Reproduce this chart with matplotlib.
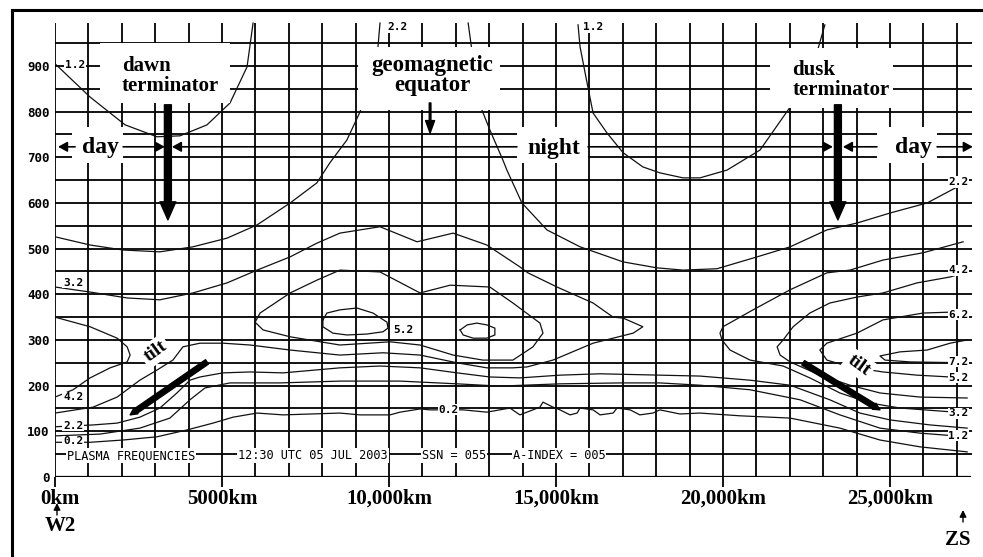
import matplotlib
matplotlib.use('Agg')
import matplotlib.pyplot as plt
from matplotlib.patches import Rectangle, FancyArrowPatch
from matplotlib.lines import Line2D
from matplotlib.transforms import ScaledTranslation

# ---------------- data (distance km, altitude km) ----------------
x_ticks = [0, 5000, 10000, 15000, 20000, 25000]
x_tick_labels = ['0km', '5000km', '10,000km', '15,000km', '20,000km', '25,000km']
y_ticks = [0, 100, 200, 300, 400, 500, 600, 700, 800, 900]
y_tick_labels = ['0', '100', '200', '300', '400', '500', '600', '700', '800', '900']
grid_x = list(range(0, 27001, 1000))
grid_y = list(range(50, 951, 50))

# 1.2 MHz topside arcs
c12_left_km = [0, 1050, 2100, 3050, 3740, 4550, 5240, 5750, 5930]
c12_left_h = [905, 832, 771, 745, 747, 771, 819, 898, 994]
c12_right_km = [15660, 15720, 15930, 16110, 16530, 17010, 17600, 18110, 18800, 19310,
                20120, 21110, 22010, 22450, 22810, 23050]
c12_right_h = [990, 942, 863, 797, 753, 710, 679, 666, 655, 655, 672, 716, 810, 869, 929, 990]

# 2.2 MHz topside
c22_left_km = [0, 1050, 2040, 3140, 4130, 5150, 6050, 7040, 7840, 8230, 8740, 9130, 9490, 9670, 9730]
c22_left_h = [526, 508, 497, 493, 504, 523, 552, 600, 644, 688, 738, 799, 880, 942, 994]
c22_right_km = [12370, 12480, 12660, 12780, 13020, 13410, 13530, 13980, 14730, 15720, 17010,
                18020, 18800, 19820, 21020, 22010, 23110, 24010, 25000, 26110, 27010]
c22_right_h = [994, 935, 869, 804, 760, 694, 672, 600, 541, 504, 471, 458, 453, 456, 482, 504,
               541, 556, 578, 600, 635]

# 3.2 MHz, western / central lobe
c32_km = [0, 1050, 2160, 3140, 4130, 5150, 6050, 7040, 7840, 8530, 9730, 10840, 11920, 12930,
          13920, 14160, 15030, 16110, 16710, 17010, 17600, 17310, 16110, 14910, 14130, 13710,
          12930, 12040, 10930, 9820, 8530, 7040, 5840, 5030, 4340, 3830, 3530, 3050, 2540,
          1860, 1140, 0]
c32_h = [416, 405, 392, 388, 403, 425, 453, 482, 512, 534, 548, 515, 534, 508, 460, 447, 416,
         381, 350, 348, 329, 315, 293, 256, 241, 239, 239, 250, 267, 272, 267, 278, 289, 293,
         293, 285, 256, 234, 212, 175, 153, 140]

# 4.2 MHz, central loop and western nose
c42_center_km = [5990, 6140, 7040, 7840, 8530, 9730, 10930, 11830, 13020, 13710, 14520, 14610,
                 14310, 13710, 12810, 11920, 10930, 10030, 8530, 7040, 6230, 5990]
c42_center_h = [339, 359, 403, 431, 453, 449, 403, 420, 416, 381, 337, 315, 285, 256, 256, 267,
                289, 296, 289, 307, 322, 339]
c42_west_km = [0, 1050, 1860, 2160, 2250, 2160, 1650, 1050, 540, 0]
c42_west_h = [350, 329, 304, 285, 267, 252, 239, 217, 191, 175]

# 5.2 MHz closed cells
c52_a_km = [8020, 8140, 8530, 9040, 9520, 9940, 9970, 9820, 9340, 8740, 8320, 8020, 8020]
c52_a_h = [344, 359, 366, 370, 359, 339, 326, 318, 313, 311, 315, 329, 344]
c52_b_km = [12130, 12340, 12630, 12930, 13170, 13170, 12930, 12520, 12220, 12130]
c52_b_h = [322, 333, 337, 333, 326, 311, 304, 304, 311, 322]

# eastern (dusk side) noses
c32_east_km = [27190, 25990, 24790, 23800, 23110, 22010, 20900, 20000, 19910, 19970, 20210,
               20810, 21800, 22600, 23500, 24400, 25300, 27310]
c32_east_h = [515, 491, 475, 453, 447, 410, 366, 329, 315, 300, 278, 256, 243, 217, 184, 162,
              151, 140]
c42_east_km = [27310, 26800, 25810, 24790, 24010, 23200, 22600, 22100, 21800, 21620, 21710,
               22010, 22900, 23800, 24700, 25900, 27310]
c42_east_h = [449, 438, 425, 403, 394, 381, 359, 329, 300, 285, 267, 252, 223, 201, 184, 175, 173]
c62_east_km = [27310, 26800, 25990, 24790, 24010, 23110, 22900, 23110, 23800, 24790, 25810, 27310]
c62_east_h = [361, 361, 359, 344, 315, 293, 278, 256, 241, 230, 223, 217]
c72_east_km = [27310, 26800, 26110, 25300, 24700, 24850, 25600, 27310]
c72_east_h = [300, 293, 278, 274, 265, 256, 252, 250]

# bottomside contours spanning the whole path
c22_bottom_km = [0, 1140, 1860, 2540, 3140, 3650, 4040, 4340, 5030, 5840, 6830, 8530, 9730,
                 10930, 12040, 13020, 13920, 15120, 16320, 18110, 19310, 20810, 22010, 23200,
                 24100, 25000, 26200, 27310]
c22_bottom_h = [110, 114, 118, 131, 151, 184, 212, 219, 228, 230, 228, 239, 243, 239, 228, 219,
                217, 223, 226, 223, 221, 212, 201, 169, 140, 125, 114, 107]
c12_bottom_km = [0, 1350, 2540, 3440, 4040, 4490, 5240, 6740, 8530, 10330, 12040, 13320, 15120,
                 16920, 18110, 19310, 20810, 22310, 23500, 24700, 25900, 27310]
c12_bottom_h = [90, 94, 107, 129, 169, 195, 206, 206, 210, 210, 204, 199, 204, 206, 206, 201,
                191, 169, 136, 107, 96, 88]
c02_km = [0, 1050, 2040, 3050, 3950, 4730, 5330, 6050, 6830, 8530, 9130, 10030, 10330, 10930,
          11230, 12220, 12930, 13620, 13920, 14130, 14520, 14610, 14910, 15120, 15420, 15630,
          15720, 16110, 16320, 16710, 16830, 17220, 17510, 17900, 18110, 18710, 19310, 20510,
          22010, 23500, 24700, 25900, 27310]
c02_h = [76, 76, 81, 88, 103, 118, 131, 140, 136, 140, 136, 136, 142, 149, 147, 147, 142, 151,
         136, 142, 153, 164, 153, 147, 136, 140, 151, 147, 136, 140, 151, 147, 136, 140, 147,
         138, 140, 134, 129, 107, 81, 66, 55]

# contour labels
clabel_text = ['1.2', '2.2', '1.2', '3.2', '4.2', '2.2', '0.2', '5.2', '0.2',
               '2.2', '4.2', '6.2', '7.2', '5.2', '3.2', '1.2']
clabel_km = [300, 9940, 15810, 240, 240, 240, 240, 10120, 11470,
             26750, 26750, 26750, 26750, 26750, 26750, 26750]
clabel_h = [902, 985, 985, 425, 175, 112, 78, 322, 147,
            646, 453, 355, 252, 217, 140, 90]

info_texts = ['PLASMA FREQUENCIES', '12:30 UTC 05 JUL 2003', 'SSN = 055', 'A-INDEX = 005']
info_km = [360, 5480, 10990, 13710]
info_h = 47

# ---------------- figure ----------------
fig = plt.figure(figsize=(9.83, 5.57), dpi=100)
ax = fig.add_axes([55 / 983, 1 - 477 / 557, (973.5 - 55) / 983, (477 - 20.3) / 557])
ax.set_xlim(0, 27500)
ax.set_ylim(0, 1000)
for s in ax.spines.values():
    s.set_visible(False)

serif = 'Liberation Serif'
mono = 'DejaVu Sans Mono'

# grid
for gx in grid_x:
    ax.plot([gx, gx], [0, 995], color='black', lw=1.3, zorder=1, solid_capstyle='butt')
for gy in grid_y:
    ax.plot([0, 27450], [gy, gy], color='black', lw=1.3, zorder=1, solid_capstyle='butt')
ax.plot([0, 27400], [0, 0], color='black', lw=1.6, zorder=1)

# contours
contours = [(c12_left_km, c12_left_h), (c12_right_km, c12_right_h),
            (c22_left_km, c22_left_h), (c22_right_km, c22_right_h),
            (c32_km, c32_h), (c42_center_km, c42_center_h), (c42_west_km, c42_west_h),
            (c52_a_km, c52_a_h), (c52_b_km, c52_b_h),
            (c32_east_km, c32_east_h), (c42_east_km, c42_east_h),
            (c62_east_km, c62_east_h), (c72_east_km, c72_east_h),
            (c22_bottom_km, c22_bottom_h), (c12_bottom_km, c12_bottom_h), (c02_km, c02_h)]
for xs, hs in contours:
    ax.plot(xs, hs, color='#111111', lw=0.9, zorder=2)

# contour labels
for t, xk, hk in zip(clabel_text, clabel_km, clabel_h):
    ax.text(xk, hk, t, fontfamily=mono, fontweight='bold', fontsize=8.0, ha='left', va='center',
            zorder=4, bbox=dict(boxstyle='square,pad=0.05', fc='white', ec='none'))

# info line
for t, xk in zip(info_texts, info_km):
    ax.text(xk, info_h, t, fontfamily=mono, fontsize=8.6, ha='left', va='center', zorder=4,
            bbox=dict(boxstyle='square,pad=0.08', fc='white', ec='none'))

# white boxes behind annotations (km, km)
boxes = [(1350, 819, 5240, 950), (9070, 804, 13320, 942), (13830, 688, 15960, 767),
         (510, 688, 2040, 767), (21410, 808, 25090, 940), (24610, 688, 26410, 767)]
for x0, y0, x1, y1 in boxes:
    ax.add_patch(Rectangle((x0, y0), x1 - x0, y1 - y0, fc='white', ec='none', zorder=3))

ax.text(2006, 921, 'dawn\nterminator', fontfamily=serif, fontweight='bold', fontsize=15,
        ha='left', va='top', linespacing=1.0, zorder=4)
ax.text(11290, 924, 'geomagnetic\nequator', fontfamily=serif, fontweight='bold', fontsize=16.5,
        ha='center', va='top', multialignment='center', linespacing=0.95, zorder=4)
ax.text(22070, 913, 'dusk\nterminator', fontfamily=serif, fontweight='bold', fontsize=15,
        ha='left', va='top', linespacing=1.0, zorder=4)
ax.text(14940, 707, 'night', fontfamily=serif, fontweight='bold', fontsize=17,
        ha='center', va='baseline', zorder=4)
ax.text(810, 709, 'day', fontfamily=serif, fontweight='bold', fontsize=17,
        ha='left', va='baseline', zorder=4)
ax.text(25150, 709, 'day', fontfamily=serif, fontweight='bold', fontsize=17,
        ha='left', va='baseline', zorder=4)

# tilt labels
ax.text(3000, 275, 'tilt', fontfamily=serif, fontweight='bold', fontsize=14, rotation=36,
        ha='center', va='center', rotation_mode='anchor', zorder=4,
        bbox=dict(boxstyle='square,pad=0.15', fc='white', ec='none'))
ax.text(24070, 245, 'tilt', fontfamily=serif, fontweight='bold', fontsize=14, rotation=-36,
        ha='center', va='center', rotation_mode='anchor', zorder=4,
        bbox=dict(boxstyle='square,pad=0.15', fc='white', ec='none'))


def arrow(x0, y0, x1, y1, style, **kw):
    p = FancyArrowPatch((x0, y0), (x1, y1), arrowstyle=style, mutation_scale=10,
                        color='black', zorder=5, shrinkA=0, shrinkB=0, **kw)
    ax.add_patch(p)


# terminator arrows
big = 'simple,head_length=1.3,head_width=1.15,tail_width=0.5'
arrow(3380, 815, 3380, 563, big)
arrow(23440, 815, 23440, 563, big)
# geomagnetic equator arrow
arrow(11230, 819, 11230, 753, 'simple,head_length=0.9,head_width=0.65,tail_width=0.12')
# tilt arrows (thick bars with a small head)
tilt = 'simple,head_length=0.5,head_width=0.5,tail_width=0.38'
arrow(4550, 252, 2250, 136, tilt)
arrow(22400, 250, 24700, 147, tilt)

# day / night arrows
dn = '-|>,head_length=0.55,head_width=0.3'
yd = 723
arrow(600, yd, 90, yd, dn, lw=1.2)
arrow(2040, yd, 3290, yd, dn, lw=1.2)
arrow(13830, yd, 3500, yd, dn, lw=1.2)
arrow(15960, yd, 23290, yd, dn, lw=1.2)
arrow(24610, yd, 23590, yd, dn, lw=1.2)
arrow(26410, yd, 27480, yd, dn, lw=1.2)

# ticks
ax.set_xticks(x_ticks)
ax.set_xticklabels(x_tick_labels, fontfamily=serif, fontweight='bold', fontsize=15)
ax.tick_params(axis='x', length=7, width=1.3, direction='out', pad=1.5, color='black')
first = ax.get_xticklabels()[0]
first.set_transform(first.get_transform() + ScaledTranslation(5 / 100, 0, fig.dpi_scale_trans))
ax.set_yticks(y_ticks)
ax.set_yticklabels(y_tick_labels, fontfamily=mono, fontweight='bold', fontsize=9)
ax.tick_params(axis='y', length=0, pad=4)

# station markers below the axis
fig.text(60 / 983, 1 - 526 / 557, 'W2', fontfamily=serif, fontweight='bold', fontsize=15,
         ha='center', va='center')
fig.text(958 / 983, 1 - 540 / 557, 'ZS', fontfamily=serif, fontweight='bold', fontsize=15,
         ha='center', va='center')
for xp, y0p, y1p in [(57, 515, 503), (963, 522, 510)]:
    fig.add_artist(FancyArrowPatch((xp / 983, 1 - y0p / 557), (xp / 983, 1 - y1p / 557),
                                   transform=fig.transFigure,
                                   arrowstyle='-|>,head_length=0.4,head_width=0.2',
                                   mutation_scale=10, color='black', lw=1.0, shrinkA=0, shrinkB=0))

# scan frame
fig.add_artist(Line2D([12 / 983, 12 / 983], [0, 1 - 10 / 557], transform=fig.transFigure,
                      color='black', lw=2.2))
fig.add_artist(Line2D([12 / 983, 1], [1 - 10 / 557, 1 - 10 / 557], transform=fig.transFigure,
                      color='black', lw=2.2))

fig.savefig('out.png', dpi=100, facecolor='white')
